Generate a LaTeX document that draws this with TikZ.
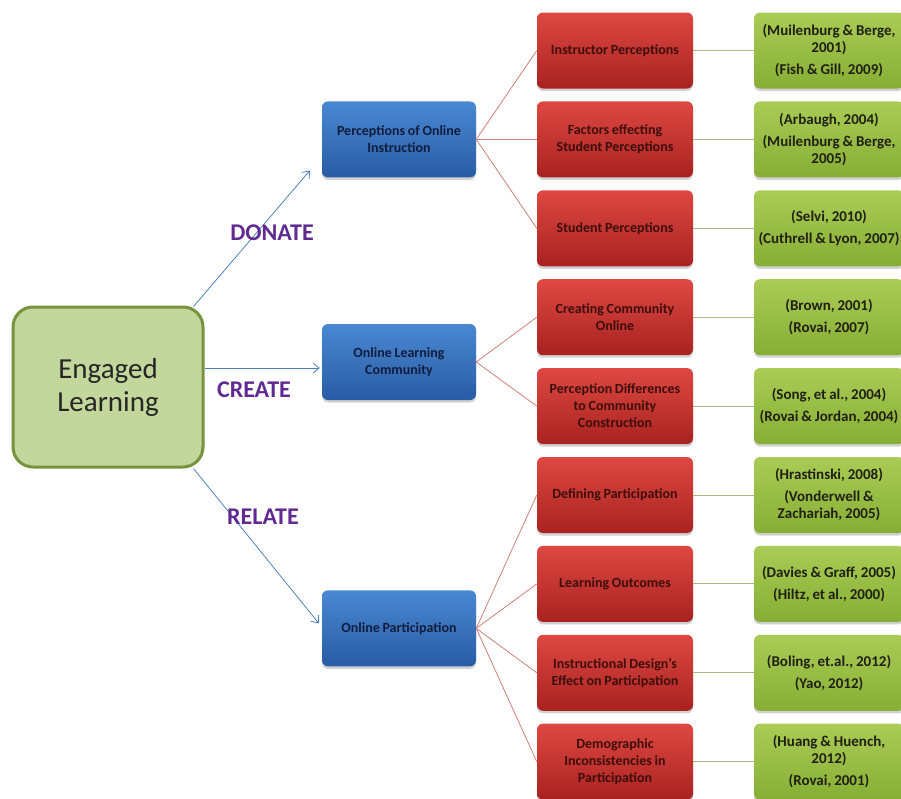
\documentclass[tikz,border=0pt]{standalone}
\usepackage{fontspec}
\setmainfont{Carlito}[WordSpace=0.85]
\usetikzlibrary{shadows,arrows.meta,calc}

\definecolor{rootfill}{RGB}{195,214,155}
\definecolor{rootedge}{RGB}{119,147,60}
\definecolor{redtop}{RGB}{222,72,66}
\definecolor{redbot}{RGB}{168,34,32}
\definecolor{redtext}{RGB}{62,14,12}
\definecolor{bluetop}{RGB}{74,136,210}
\definecolor{bluebot}{RGB}{40,92,164}
\definecolor{bluetext}{RGB}{18,28,60}
\definecolor{greentop}{RGB}{170,204,86}
\definecolor{greenbot}{RGB}{134,174,52}
\definecolor{greentext}{RGB}{32,32,20}
\definecolor{arrowblue}{RGB}{79,129,189}
\definecolor{redlink}{RGB}{205,128,120}
\definecolor{greenlink}{RGB}{165,185,135}
\definecolor{verbpurple}{RGB}{96,42,146}

\begin{document}
\begin{tikzpicture}[x=1pt,y=-1pt,
  boxbase/.style={rounded corners=6pt, minimum height=76pt, align=center,
    inner sep=2pt, draw=none,
    drop shadow={shadow xshift=0pt, shadow yshift=-2.5pt, opacity=0.3, fill=black!60}},
  redbox/.style={boxbase, minimum width=156pt,
    top color=redtop, bottom color=redbot, text=redtext,
    font=\bfseries\fontsize{14}{17}\selectfont},
  bluebox/.style={boxbase, minimum width=154pt,
    top color=bluetop, bottom color=bluebot, text=bluetext,
    font=\bfseries\fontsize{14}{17}\selectfont},
  greenbox/.style={boxbase, minimum width=150pt,
    top color=greentop, bottom color=greenbot, text=greentext,
    font=\bfseries\fontsize{15}{17}\selectfont},
  rootbox/.style={rounded corners=20pt, minimum width=190pt, minimum height=160pt,
    fill=rootfill, draw=rootedge, line width=3pt, align=center,
    text=black!85, font=\fontsize{29}{33}\selectfont},
  verb/.style={text=verbpurple, font=\bfseries\fontsize{24}{26}\selectfont},
  mainarrow/.style={draw=arrowblue, line width=0.8pt,
    -{Straight Barb[length=6pt,width=10pt,line width=0.8pt]}},
  redlinkline/.style={draw=redlink, line width=0.8pt},
  greenlinkline/.style={draw=greenlink, line width=1pt}
]
\useasboundingbox (0,0) rectangle (901,798);

% root
\node[rootbox] (root) at (108,387) {Engaged\\Learning};

% second level
\node[bluebox] (b1) at (399,139.4) {Perceptions of Online\\Instruction};
\node[bluebox] (b2) at (399,362) {Online Learning\\Community};
\node[bluebox] (b3) at (399,628.3) {Online Participation};

% third level
\node[redbox] (r1) at (615,50.5) {Instructor Perceptions};
\node[redbox] (r2) at (615,139.4) {Factors effecting\\Student Perceptions};
\node[redbox] (r3) at (615,228.3) {Student Perceptions};
\node[redbox] (r4) at (615,317.2) {Creating Community\\Online};
\node[redbox] (r5) at (615,406.1) {Perception Differences\\to Community\\Construction};
\node[redbox] (r6) at (615,495) {Defining Participation};
\node[redbox] (r7) at (615,583.9) {Learning Outcomes};
\node[redbox] (r8) at (615,672.8) {Instructional Design's\\Effect on Participation};
\node[redbox] (r9) at (615,761.7) {Demographic\\Inconsistencies in\\Participation};

% references
\node[greenbox] (g1) at (829,50.5) {(Muilenburg \& Berge,\\2001)\\[5pt](Fish \& Gill, 2009)};
\node[greenbox] (g2) at (829,139.4) {(Arbaugh, 2004)\\[5pt](Muilenburg \& Berge,\\2005)};
\node[greenbox] (g3) at (829,228.3) {(Selvi, 2010)\\[5pt](Cuthrell \& Lyon, 2007)};
\node[greenbox] (g4) at (829,317.2) {(Brown, 2001)\\[5pt](Rovai, 2007)};
\node[greenbox] (g5) at (829,406.1) {(Song, et al., 2004)\\[5pt](Rovai \& Jordan, 2004)};
\node[greenbox] (g6) at (829,495) {(Hrastinski, 2008)\\[5pt](Vonderwell \&\\Zachariah, 2005)};
\node[greenbox] (g7) at (829,583.9) {(Davies \& Graff, 2005)\\[5pt](Hiltz, et al., 2000)};
\node[greenbox] (g8) at (829,672.8) {(Boling, et.al., 2012)\\[5pt](Yao, 2012)};
\node[greenbox] (g9) at (829,761.7) {(Huang \& Huench,\\2012)\\[5pt](Rovai, 2001)};

% arrows from the root
\draw[mainarrow] ($(root.north east)+(-11,1)$) -- ($(b1.south west)+(-12,-7)$);
\draw[mainarrow] ($(root.east)+(0,-19)$) -- ($(b2.west)+(-2,6)$);
\draw[mainarrow] ($(root.south east)+(-11,0)$) -- ($(b3.west)+(-3,-5)$);

% verbs on the arrows
\node[verb] (vDonate) at (272,233) {DONATE};
\node[verb] (vCreate) at (254,390) {CREATE};
\node[verb] (vRelate) at (263,517) {RELATE};

% second to third level
\foreach \r in {r1,r2,r3} \draw[redlinkline] (b1.east) -- (\r.west);
\foreach \r in {r4,r5} \draw[redlinkline] (b2.east) -- (\r.west);
\foreach \r in {r6,r7,r8,r9} \draw[redlinkline] (b3.east) -- (\r.west);

% third level to references
\foreach \i in {1,...,9} \draw[greenlinkline] (r\i.east) -- (g\i.west);
\end{tikzpicture}
\end{document}
